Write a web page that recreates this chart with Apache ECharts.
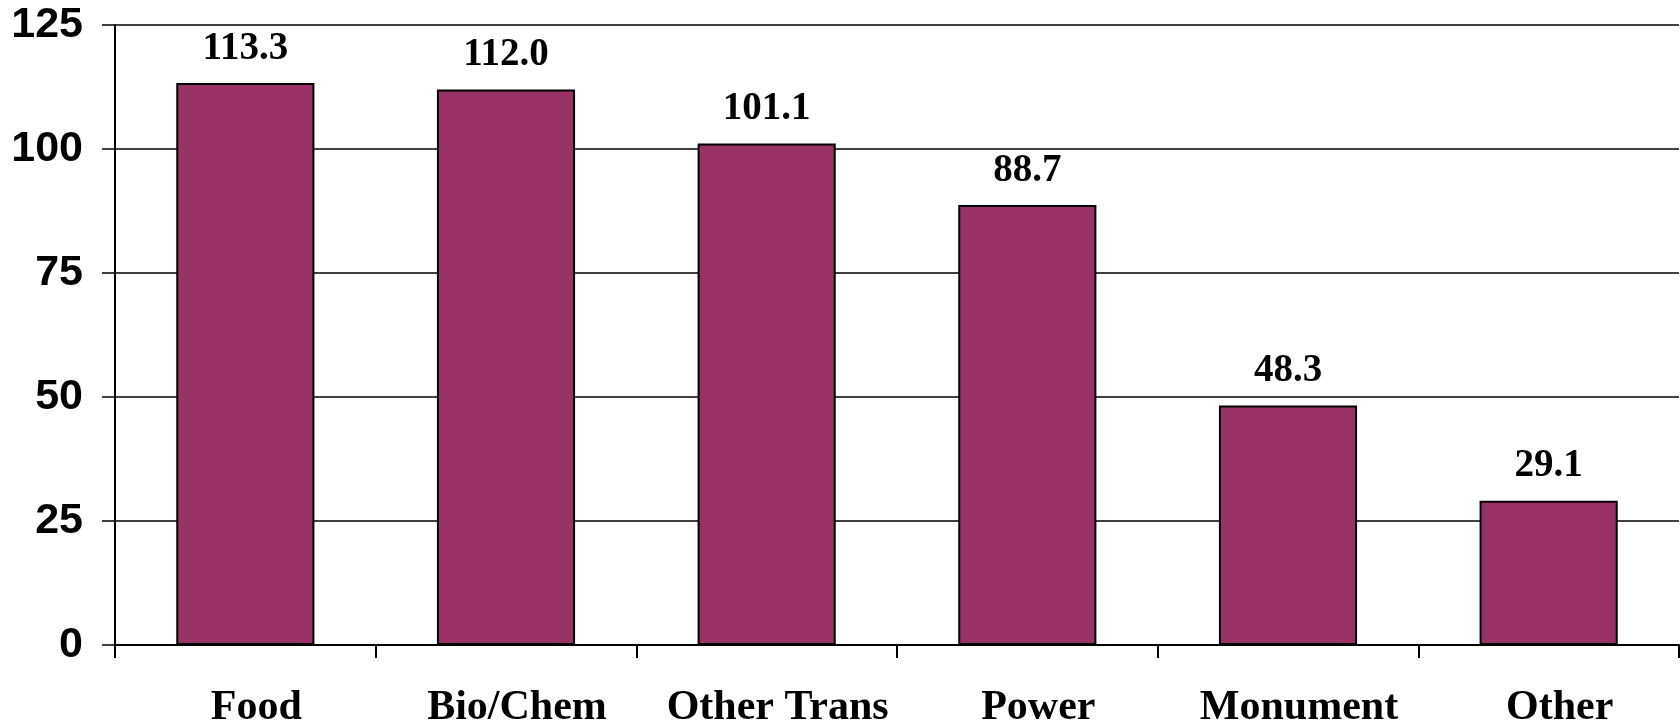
<!DOCTYPE html>
<html>
<head>
<meta charset="utf-8">
<script src="https://cdn.jsdelivr.net/npm/echarts@6/dist/echarts.min.js"></script>
<style>
html,body{margin:0;padding:0;background:#fff;}
#c{width:1680px;height:725px;}
</style>
</head>
<body>
<div id="c"></div>
<script>
const categories = ['Food', 'Bio/Chem', 'Other Trans', 'Power', 'Monument', 'Other'];
const values = [113.3, 112.0, 101.1, 88.7, 48.3, 29.1];
const yTicks = [0, 25, 50, 75, 100, 125];

const chart = echarts.init(document.getElementById('c'), null, {renderer: 'canvas'});
chart.setOption({
  animation: false,
  backgroundColor: '#ffffff',
  grid: {left: 115, right: 1, top: 25, bottom: 80, containLabel: false, outerBoundsMode: 'none'},
  xAxis: {
    type: 'category',
    data: categories,
    axisLine: {lineStyle: {color: '#000', width: 2}},
    axisTick: {show: true, length: 13, interval: 0, lineStyle: {color: '#000', width: 2}, alignWithLabel: false},
    axisLabel: {
      interval: 0,
      color: '#000', fontFamily: '"Liberation Serif", "Times New Roman", serif',
      fontWeight: 'bold', fontSize: 42, margin: 42, padding: [0, 0, 0, 22]
    }
  },
  yAxis: {
    type: 'value',
    min: 0, max: 125, interval: 25,
    axisLine: {show: true, lineStyle: {color: '#000', width: 2}},
    axisTick: {show: true, length: 13, lineStyle: {color: '#000', width: 1.5}},
    axisLabel: {
      color: '#000', fontFamily: '"Liberation Sans", Arial, sans-serif',
      fontWeight: 'bold', fontSize: 43, margin: 32,
      formatter: v => yTicks.includes(v) ? String(v) : ''
    },
    splitLine: {show: true, lineStyle: {color: '#000', width: 1.5}}
  },
  series: [{
    type: 'bar',
    data: values,
    barCategoryGap: '47%',
    itemStyle: {color: '#993366', borderColor: '#000', borderWidth: 2},
    label: {
      show: true, position: 'top', distance: 15,
      color: '#000', fontFamily: '"Liberation Serif", "Times New Roman", serif',
      fontWeight: 'bold', fontSize: 39,
      formatter: p => p.value.toFixed(1)
    }
  }]
});
</script>
</body>
</html>
